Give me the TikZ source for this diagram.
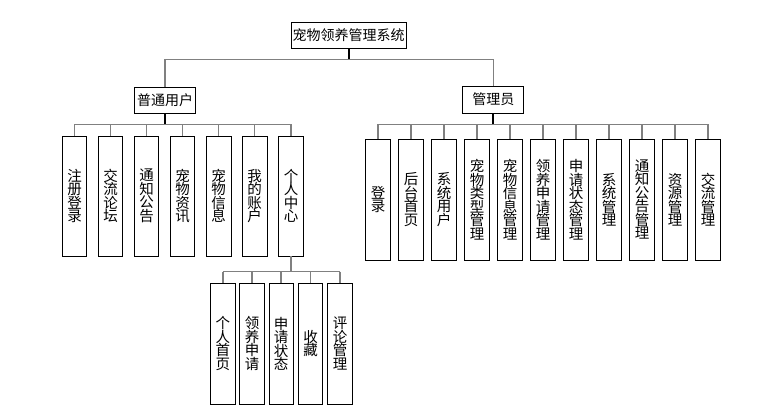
\documentclass[tikz,border=0pt]{standalone}
\usepackage{fontspec}
\newfontfamily\cjk{Noto Sans CJK SC}
\newcommand\vfont{\cjk\fontsize{14.5}{13.5}\selectfont\lineskiplimit=-20pt\lineskip=0pt}
\newcommand\hfont{\cjk\fontsize{14}{14}\selectfont}
\tikzset{
  hbox/.style={draw, line width=0.9pt, inner sep=0pt, font=\hfont},
  vbox/.style={draw, line width=0.9pt, inner sep=0pt, align=center, font=\vfont},
  lbox/.style={vbox, minimum width=24.5, minimum height=120},
  abox/.style={vbox, minimum width=25, minimum height=121},
  sbox/.style={vbox, minimum width=24.3, minimum height=121},
  conn/.style={draw=black!50, line width=1.5pt},
  stem/.style={draw=black, line width=2pt}
}
\begin{document}
\begin{tikzpicture}[x=1pt,y=-1pt]
\useasboundingbox[fill=white] (0,0) rectangle (776,414);
% top level
\node[hbox, minimum width=115, minimum height=26] (root) at (348.5,35) {宠物领养管理系统};
\node[hbox, minimum width=61, minimum height=26] (user) at (165,100) {普通用户};
\node[hbox, minimum width=61, minimum height=27] (admin) at (493.3,99.5) {管理员};
\coordinate (b0) at (348.5,59.3);
\coordinate (busU) at (165,124.3);
\coordinate (busA) at (493.3,124.3);
\coordinate (busS) at (291,271.7);
% user children
\node[lbox] (u1) at (74.5,196) {注\\册\\登\\录};
\node[lbox] (u2) at (110.5,196) {交\\流\\论\\坛};
\node[lbox] (u3) at (146.5,196) {通\\知\\公\\告};
\node[lbox] (u4) at (182.5,196) {宠\\物\\资\\讯};
\node[lbox] (u5) at (218.7,196) {宠\\物\\信\\息};
\node[lbox] (u6) at (254.7,196) {我\\的\\账\\户};
\node[lbox] (u7) at (291,196) {个\\人\\中\\心};
% admin children
\node[abox] (a1) at (378.2,199.6) {登\\录};
\node[abox] (a2) at (411.2,199.6) {后\\台\\首\\页};
\node[abox] (a3) at (444.2,199.6) {系\\统\\用\\户};
\node[abox] (a4) at (477.2,199.6) {宠\\物\\类\\型\\管\\理};
\node[abox] (a5) at (510.2,199.6) {宠\\物\\信\\息\\管\\理};
\node[abox] (a6) at (543.2,199.6) {领\\养\\申\\请\\管\\理};
\node[abox] (a7) at (576.2,199.6) {申\\请\\状\\态\\管\\理};
\node[abox] (a8) at (609.2,199.6) {系\\统\\管\\理};
\node[abox] (a9) at (642.2,199.6) {通\\知\\公\\告\\管\\理};
\node[abox] (a10) at (675.2,199.6) {资\\源\\管\\理};
\node[abox] (a11) at (708.2,199.6) {交\\流\\管\\理};
% personal center children
\node[sbox] (s1) at (222.8,343.7) {个\\人\\首\\页};
\node[sbox] (s2) at (252,343.7) {领\\养\\申\\请};
\node[sbox] (s3) at (281.2,343.7) {申\\请\\状\\态};
\node[sbox] (s4) at (310.7,343.7) {收\\藏};
\node[sbox] (s5) at (340,343.7) {评\\论\\管\\理};
% connectors: top
\draw[conn] (user.north) |- (b0) -| (admin.north);
\draw[stem] (root.south) -- (b0);
% user bus
\draw[conn] (u1.north |- busU) -- (u7.north |- busU);
\foreach \n in {u1,u2,u3,u4,u5,u6,u7} \draw[conn] (\n.north |- busU) -- (\n.north);
\draw[stem] (user.south) -- (busU);
% admin bus
\draw[conn] (a1.north |- busA) -- (a11.north |- busA);
\foreach \n in {a1,a2,a3,a4,a5,a6,a7,a8,a9,a10,a11} \draw[conn] (\n.north |- busA) -- (\n.north);
\draw[stem] (admin.south) -- (busA);
% sub bus
\draw[conn] (s1.north |- busS) -- (s5.north |- busS);
\foreach \n in {s1,s2,s3,s4,s5} \draw[conn] (\n.north |- busS) -- (\n.north);
\draw[conn] (u7.south) -- (busS);
\end{tikzpicture}
\end{document}
